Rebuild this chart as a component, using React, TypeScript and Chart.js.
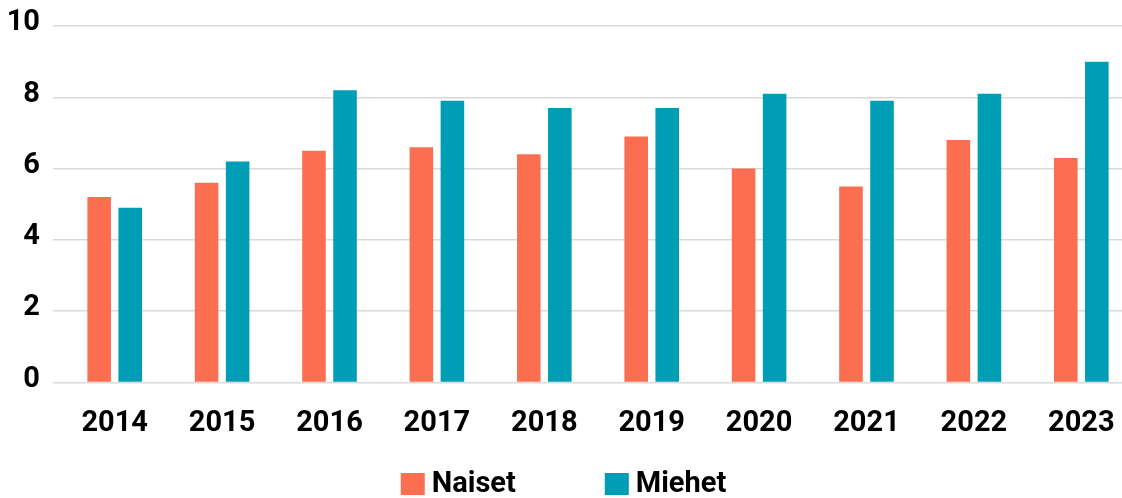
import React, { useEffect, useRef } from "react";
import { Chart, registerables } from "chart.js";

Chart.register(...registerables);

const categories = ["2014", "2015", "2016", "2017", "2018", "2019", "2020", "2021", "2022", "2023"];
const naiset = [5.2, 5.6, 6.5, 6.6, 6.4, 6.9, 6.0, 5.5, 6.8, 6.3];
const miehet = [4.9, 6.2, 8.2, 7.9, 7.7, 7.7, 8.1, 7.9, 8.1, 9.0];
const yTicks = [0, 2, 4, 6, 8, 10];

const FONT = "Roboto, 'Noto Sans', sans-serif";
const FONT_SIZE = 29;

const legendPlugin = {
  id: "customLegend",
  afterDraw(chart: any) {
    const ctx = chart.ctx;
    const ds = chart.data.datasets;
    ctx.save();
    ctx.font = `bold ${FONT_SIZE}px ${FONT}`;
    ctx.textBaseline = "middle";
    ctx.textAlign = "left";
    const boxW = 24, boxH = 22, textGap = 7, itemGap = 89;
    const widths = ds.map((d: any) => boxW + textGap + ctx.measureText(d.label).width);
    const total = widths.reduce((a: number, b: number) => a + b, 0) + itemGap * (ds.length - 1);
    let x = 563.5 - total / 2;
    const cy = 484;
    ds.forEach((d: any, i: number) => {
      ctx.fillStyle = d.backgroundColor;
      ctx.fillRect(x, cy - boxH / 2, boxW, boxH);
      ctx.fillStyle = "#000";
      ctx.fillText(d.label, x + boxW + textGap, cy + 1);
      x += widths[i] + itemGap;
    });
    ctx.restore();
  },
};

export default function App() {
  const ref = useRef<HTMLCanvasElement | null>(null);
  useEffect(() => {
    if (!ref.current) return;
    const chart = new Chart(ref.current, {
      type: "bar",
      data: {
        labels: categories,
        datasets: [
          { label: "Naiset", data: naiset, backgroundColor: "#FB6E4F", categoryPercentage: 0.578, barPercentage: 0.76 },
          { label: "Miehet", data: miehet, backgroundColor: "#009EB6", categoryPercentage: 0.578, barPercentage: 0.76 },
        ],
      },
      plugins: [legendPlugin],
      options: {
        responsive: false,
        animation: false,
        devicePixelRatio: 1,
        layout: { padding: { top: 26, left: 0, right: 0, bottom: 41.7 } },
        plugins: {
          tooltip: { enabled: false },
          legend: { display: false },
        },
        scales: {
          x: {
            grid: { display: false },
            border: { display: false },
            ticks: { color: "#000", font: { family: FONT, size: FONT_SIZE, weight: "bold" }, padding: 15.5 },
          },
          y: {
            min: 0,
            max: 10,
            afterBuildTicks: (s: any) => {
              s.ticks = yTicks.map((v) => ({ value: v }));
            },
            afterFit: (s: any) => {
              s.width = 61;
              s.paddingTop = 0;
              s.paddingBottom = 0;
            },
            grid: { color: "#d9d9d9", lineWidth: 1.5, drawTicks: true, tickLength: 8 },
            border: { display: false },
            ticks: { color: "#000", font: { family: FONT, size: FONT_SIZE, weight: "bold" }, padding: 13, labelOffset: -3 },
          },
        },
      },
    });
    return () => chart.destroy();
  }, []);
  return (
    <div style={{ position: "fixed", left: 0, top: 0, width: 1122, height: 498, overflow: "hidden", background: "#fff" }}>
      <canvas ref={ref} width={1135} height={498} style={{ display: "block" }} />
    </div>
  );
}
